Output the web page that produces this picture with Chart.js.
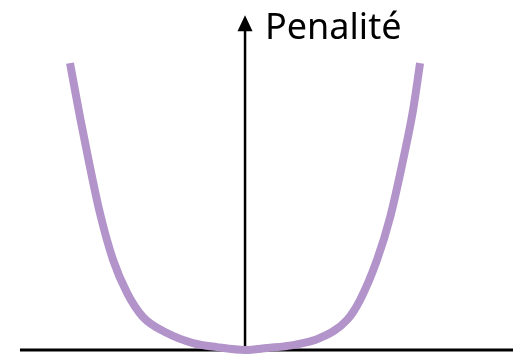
<!DOCTYPE html>
<html>
<head>
<meta charset="utf-8">
<script src="https://cdn.jsdelivr.net/npm/chart.js@4/dist/chart.umd.min.js"></script>
<style>
  html, body { margin: 0; padding: 0; background: #fff; }
  #wrap { width: 513px; height: 358px; position: relative; }
</style>
</head>
<body>
<div id="wrap"><canvas id="penaltyChart"></canvas></div>
<script>
// Curve (x: weight, y: penalty, both normalised)
const xValues = [-1.0, -0.943, -0.886, -0.829, -0.754, -0.674, -0.583, -0.446, -0.297, -0.16, 0,
                 0.126, 0.274, 0.429, 0.583, 0.657, 0.754, 0.829, 0.903, 0.96, 1.0];
const yValues = [1.0, 0.812, 0.638, 0.477, 0.314, 0.199, 0.115, 0.059, 0.024, 0.010, 0,
                 0.007, 0.017, 0.042, 0.105, 0.174, 0.314, 0.463, 0.662, 0.836, 1.0];
const axisLabel = 'Penalité';

const points = xValues.map((x, i) => ({ x, y: yValues[i] }));

// Axes with arrow, drawn from the scales
const axesPlugin = {
  id: 'axes',
  beforeDatasetsDraw(chart) {
    const { ctx, scales: { x, y } } = chart;
    const x0 = x.getPixelForValue(0);
    const y0 = y.getPixelForValue(0);
    const left = x.getPixelForValue(-1.286);
    const right = chart.width;
    const top = y.getPixelForValue(1.167);
    ctx.save();
    ctx.strokeStyle = '#000';
    ctx.fillStyle = '#000';
    ctx.lineWidth = 3;
    ctx.beginPath();
    ctx.moveTo(left, y0);
    ctx.lineTo(right, y0);
    ctx.stroke();
    ctx.lineWidth = 2.5;
    ctx.beginPath();
    ctx.moveTo(x0, y0);
    ctx.lineTo(x0, top + 14);
    ctx.stroke();
    ctx.beginPath();
    ctx.moveTo(x0, top);
    ctx.lineTo(x0 - 7.5, top + 16);
    ctx.lineTo(x0 + 7.5, top + 16);
    ctx.closePath();
    ctx.fill();
    ctx.font = '36px "Noto Sans"';
    ctx.textBaseline = 'alphabetic';
    ctx.fillText(axisLabel, x0 + 20, top + 24);
    ctx.restore();
  }
};

new Chart(document.getElementById('penaltyChart'), {
  type: 'scatter',
  data: {
    datasets: [{
      data: points,
      showLine: true,
      borderColor: '#b294ca',
      borderWidth: 8,
      pointRadius: 0,
      tension: 0.3,
      cubicInterpolationMode: 'monotone',
      borderCapStyle: 'butt',
      borderJoinStyle: 'round'
    }]
  },
  options: {
    responsive: true,
    maintainAspectRatio: false,
    animation: false,
    layout: { padding: 0 },
    scales: {
      x: { type: 'linear', min: -1.4, max: 1.531, display: false },
      y: { type: 'linear', min: -0.028, max: 1.22, display: false }
    },
    plugins: { legend: { display: false }, tooltip: { enabled: false } }
  },
  plugins: [axesPlugin]
});
</script>
</body>
</html>
